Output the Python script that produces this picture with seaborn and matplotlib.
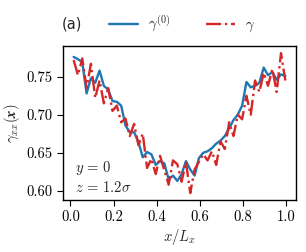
import numpy as np
import pandas as pd
import matplotlib
matplotlib.use("Agg")
import matplotlib.pyplot as plt
import seaborn as sns

# positions along x / L_x
x_pos = [0.015, 0.035, 0.055, 0.075, 0.095, 0.115, 0.135, 0.155, 0.175, 0.195,
         0.215, 0.235, 0.255, 0.275, 0.295, 0.315, 0.335, 0.355, 0.375, 0.395,
         0.415, 0.435, 0.455, 0.475, 0.495, 0.515, 0.535, 0.555, 0.575, 0.595,
         0.615, 0.635, 0.655, 0.675, 0.695, 0.715, 0.735, 0.755, 0.775, 0.795,
         0.815, 0.835, 0.855, 0.875, 0.895, 0.915, 0.935, 0.955, 0.975, 0.995]

# gamma^(0)
gamma0 = [0.776, 0.773, 0.769, 0.728, 0.748, 0.742, 0.758, 0.738, 0.733, 0.718,
          0.717, 0.712, 0.686, 0.677, 0.677, 0.664, 0.644, 0.651, 0.648, 0.634,
          0.639, 0.636, 0.615, 0.620, 0.613, 0.622, 0.639, 0.628, 0.620, 0.643,
          0.650, 0.652, 0.656, 0.662, 0.666, 0.672, 0.682, 0.693, 0.700, 0.712,
          0.743, 0.736, 0.738, 0.742, 0.762, 0.752, 0.756, 0.746, 0.753, 0.751]

# gamma
gamma = [0.772, 0.752, 0.774, 0.735, 0.767, 0.722, 0.745, 0.715, 0.735, 0.705,
         0.712, 0.690, 0.695, 0.672, 0.688, 0.660, 0.675, 0.630, 0.642, 0.622,
         0.646, 0.627, 0.608, 0.640, 0.635, 0.612, 0.638, 0.597, 0.628, 0.638,
         0.648, 0.640, 0.652, 0.634, 0.665, 0.655, 0.690, 0.672, 0.700, 0.694,
         0.725, 0.700, 0.745, 0.730, 0.755, 0.738, 0.760, 0.730, 0.781, 0.745]

sns.set_style("ticks")
plt.rcParams["font.family"] = ["serif"]
plt.rcParams["font.serif"] = ["cmr10", "DejaVu Serif"]
plt.rcParams["mathtext.fontset"] = "cm"
plt.rcParams["axes.formatter.use_mathtext"] = True

fs = 10.5
df = pd.DataFrame({"x": x_pos, "g0": gamma0, "g": gamma})

fig = plt.figure(figsize=(3.06, 2.52), dpi=100)
ax = fig.add_axes([0.206, 0.206, 0.761, 0.611])

sns.lineplot(data=df, x="x", y="g0", ax=ax, color="#1f77b4", lw=1.7,
             label=r"$\gamma^{(0)}$")
sns.lineplot(data=df, x="x", y="g", ax=ax, color="#d62728", lw=1.7,
             linestyle="-.", label=r"$\gamma$")

ax.set_xticks([0.0, 0.2, 0.4, 0.6, 0.8, 1.0])
ax.set_yticks([0.60, 0.65, 0.70, 0.75])
ax.set_xticklabels(["0.0", "0.2", "0.4", "0.6", "0.8", "1.0"])
ax.set_yticklabels(["0.60", "0.65", "0.70", "0.75"])
ax.set_xlabel(r"$x/L_x$", fontsize=fs, labelpad=2)
ax.set_ylabel(r"$\gamma_{xx}(\boldsymbol{x})$", fontsize=fs, labelpad=3)
for sp in ax.spines.values():
    sp.set_linewidth(1.0)
    sp.set_color("black")
ax.tick_params(length=4, width=0.8, colors="black", labelsize=fs)

ax.text(0.05, 0.18, r"$y\,=\,0$", transform=ax.transAxes, fontsize=fs)
ax.text(0.05, 0.05, r"$z\,=\,1.2\sigma$", transform=ax.transAxes, fontsize=fs)

fig.text(0.203, 0.905, "(a)", family="DejaVu Sans", fontsize=fs, va="center")
ax.legend(loc="center", bbox_to_anchor=(0.51, 1.145), ncol=2, frameon=False,
          fontsize=fs, handlelength=2.0, columnspacing=2.4, handletextpad=0.7)

fig.savefig("out.png", dpi=100)
